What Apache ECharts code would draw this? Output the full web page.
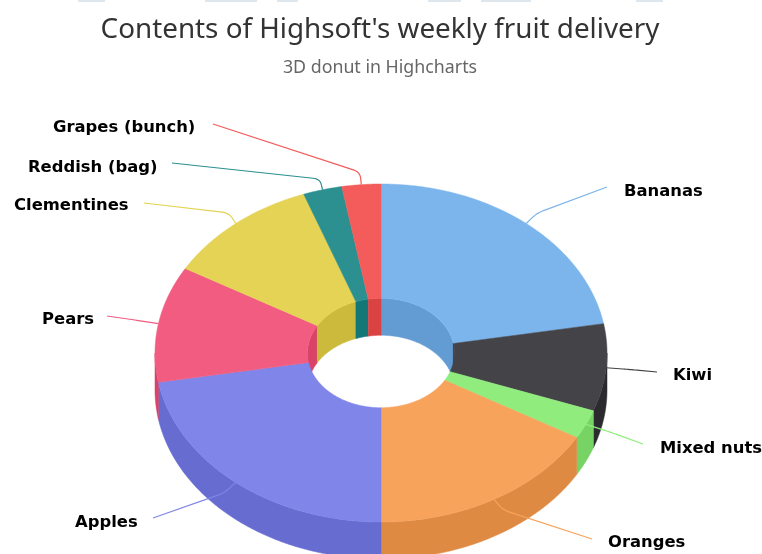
<!DOCTYPE html>
<html>
<head>
<meta charset="utf-8">
<title>Contents of Highsoft's weekly fruit delivery</title>
<script src="https://cdn.jsdelivr.net/npm/echarts@6/dist/echarts.min.js"></script>
<style>
  html, body { margin: 0; padding: 0; background: #fff; overflow: hidden; }
  #chart { width: 762px; height: 554px; }
</style>
</head>
<body>
<div id="chart"></div>
<script>
const fruits = ["Bananas", "Kiwi", "Mixed nuts", "Oranges", "Apples", "Pears", "Clementines", "Reddish (bag)", "Grapes (bunch)"];
const amounts = [8, 3, 1, 6, 8, 4, 4, 1, 1];
const colors = ["#7cb5ec", "#434348", "#90ed7d", "#f7a35c", "#8085e9", "#f15c80", "#e4d354", "#2b908f", "#f45b5b"];

// hand placed label layout: knee and end of each connector, text x / y
const knees = [[537, 213], [630, 369.5], [610, 432], [503, 510], [224, 493], [135, 320], [229, 213], [320, 179], [360, 172]];
const lineEnds = [[607, 187], [657, 372], [643, 444], [592, 539], [153, 518], [107, 316], [144, 203], [172, 163], [213, 124]];
const labelPos = [[624, 191.5], [673, 375.5], [660, 448.5], [608, 542.5], [75, 522.5], [42, 319.5], [14, 205.5], [28, 167.5], [53, 127.5]];

// leftovers of the cropped header at the very top of the page
const topStrips = [[78, 27], [205, 52], [277, 21], [428, 33], [481, 50], [636, 27]];

// donut geometry
const cx = 381, cy = 353;
const outerX = 226, outerY = 169;
const innerX = 73.5, innerY = 54.7;
const depth = 37;
const cornerRadius = 7;

const total = amounts.reduce((a, b) => a + b, 0);
const startAngles = amounts.map((_, i) => amounts.slice(0, i).reduce((a, b) => a + b, 0) / total * 360);

function pt(angle, rx, ry, dy) {
  const r = angle * Math.PI / 180;
  return [cx + rx * Math.sin(r), cy - ry * Math.cos(r) + (dy || 0)];
}

function arc(a0, a1, rx, ry, dy) {
  const pts = [];
  const n = Math.max(2, Math.ceil(Math.abs(a1 - a0) * 2));
  for (let i = 0; i <= n; i++) pts.push(pt(a0 + (a1 - a0) * i / n, rx, ry, dy));
  return pts;
}

// same as highcharts brighten(-0.1)
function darker(hex) {
  const n = parseInt(hex.slice(1), 16);
  const c = [n >> 16, (n >> 8) & 255, n & 255].map(v => Math.max(0, v - 25));
  return `rgb(${c[0]},${c[1]},${c[2]})`;
}

function wall(a0, a1, rx, ry, fill) {
  const pts = arc(a0, a1, rx, ry, 0).concat(arc(a1, a0, rx, ry, depth));
  return { type: "polygon", shape: { points: pts }, style: { fill: fill, stroke: fill, lineWidth: 0.5 } };
}

function renderWalls(params, api) {
  const i = params.dataIndex;
  const a0 = startAngles[i];
  const a1 = a0 + api.value(0) / total * 360;
  const fill = darker(colors[i]);
  const children = [];
  // outer side only shows on the front half, hole wall only on the back half
  if (a1 > 90 && a0 < 270) children.push(wall(Math.max(a0, 90), Math.min(a1, 270), outerX, outerY, fill));
  if (a0 < 90) children.push(wall(a0, Math.min(a1, 90), innerX, innerY, fill));
  if (a1 > 270) children.push(wall(Math.max(a0, 270), a1, innerX, innerY, fill));
  return { type: "group", children: children };
}

function renderTops(params, api) {
  const i = params.dataIndex;
  const a0 = startAngles[i];
  const a1 = a0 + api.value(0) / total * 360;
  const pts = arc(a0, a1, outerX, outerY, 0).concat(arc(a1, a0, innerX, innerY, 0));
  return { type: "polygon", shape: { points: pts }, style: { fill: colors[i], stroke: colors[i], lineWidth: 0.5 } };
}

// point on the way from p towards q, at most dist away
function towards(p, q, dist) {
  const len = Math.hypot(q[0] - p[0], q[1] - p[1]) || 1;
  const k = Math.min(dist / len, 0.5);
  return [p[0] + (q[0] - p[0]) * k, p[1] + (q[1] - p[1]) * k];
}

function renderLabels(params, api) {
  const i = params.dataIndex;
  const mid = startAngles[i] + api.value(0) / total * 180;
  const start = pt(mid, outerX, outerY, 0);
  const knee = knees[i], end = lineEnds[i];
  // round the corner at the knee with a small quadratic
  const c0 = towards(knee, start, cornerRadius), c1 = towards(knee, end, cornerRadius);
  const line = [start];
  for (let t = 0; t <= 1.001; t += 0.125) {
    const a = (1 - t) * (1 - t), b = 2 * t * (1 - t), c = t * t;
    line.push([a * c0[0] + b * knee[0] + c * c1[0], a * c0[1] + b * knee[1] + c * c1[1]]);
  }
  line.push(end);
  return {
    type: "group",
    children: [
      { type: "polyline", shape: { points: line }, style: { stroke: colors[i], lineWidth: 1.2, fill: "none" } },
      {
        type: "text",
        style: {
          text: fruits[i], x: labelPos[i][0], y: labelPos[i][1],
          align: "left", verticalAlign: "middle",
          fill: "#000", fontFamily: "DejaVu Sans", fontWeight: "bold", fontSize: 16.4
        }
      }
    ]
  };
}

const option = {
  animation: false,
  backgroundColor: "#fff",
  title: {
    text: "Contents of Highsoft's weekly fruit delivery",
    subtext: "3D donut in Highcharts",
    left: 375,
    top: 11,
    textAlign: "center",
    itemGap: 15,
    textStyle: { color: "#333333", fontSize: 27.8, fontWeight: "normal", fontFamily: "Noto Sans" },
    subtextStyle: { color: "#666666", fontSize: 17.8, fontFamily: "Noto Sans" }
  },
  graphic: topStrips.map(s => ({
    type: "rect", silent: true,
    shape: { x: s[0], y: 0, width: s[1], height: 2 },
    style: { fill: "#dfe7ee" }
  })),
  series: [
    { type: "custom", coordinateSystem: "none", z: 1, silent: true, data: amounts, renderItem: renderWalls },
    { type: "custom", coordinateSystem: "none", z: 2, silent: true, data: amounts, renderItem: renderTops },
    { type: "custom", coordinateSystem: "none", z: 3, silent: true, data: amounts, renderItem: renderLabels }
  ]
};

const chart = echarts.init(document.getElementById("chart"));
chart.setOption(option);
window.addEventListener("resize", () => chart.resize());
</script>
</body>
</html>
